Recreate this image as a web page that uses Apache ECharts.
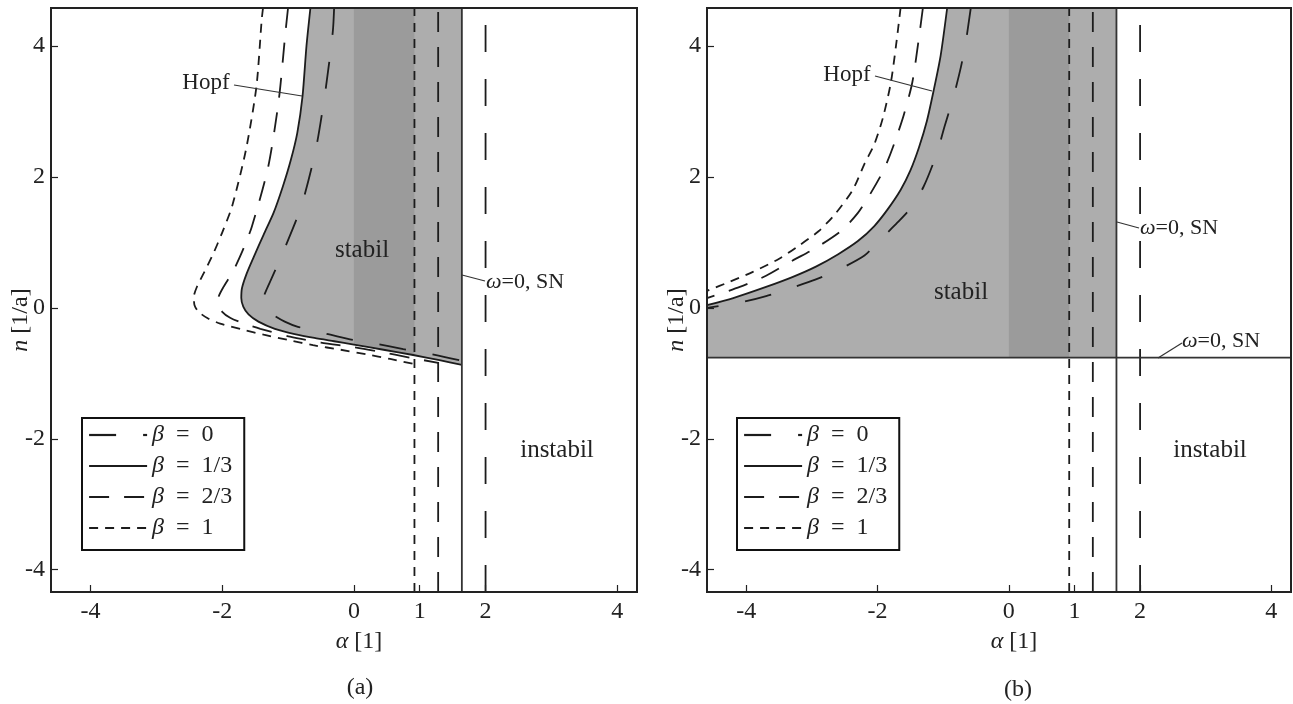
<!DOCTYPE html>
<html><head><meta charset="utf-8">
<script src="https://cdn.jsdelivr.net/npm/echarts@6/dist/echarts.min.js"></script>
<style>html,body{margin:0;padding:0;background:#fff}#c{width:1293px;height:704px}</style>
</head><body><div id="c"></div>
<script>
// ---------- data ----------
const betaNames = ['β = 0', 'β = 1/3', 'β = 2/3', 'β = 1'];
const snAlpha = [2.0, 1.64, 1.28, 0.92];       // saddle-node (ω=0) vertical lines per β
const snLevelB = -0.76;                          // horizontal SN line, panel (b)
const xTicks = [-4, -2, 0, 1, 2, 4];
const yTicks = [-4, -2, 0, 2, 4];
const xRange = [-4.6, 4.3];
const yRange = [-4.34, 4.58];

// panel (a): Hopf curves
const hopfA_b0 = [[-0.30,4.58],[-0.32,4.22],[-0.43,3.33],[-0.58,2.41],[-0.80,1.55],[-1.08,0.84],[-1.25,0.45],[-1.33,0.27],[-1.37,0.15],[-1.35,0.04],[-1.30,-0.04],[-1.22,-0.11],[-1.05,-0.21],[-0.85,-0.29],[-0.44,-0.39],[-0.06,-0.48],[0.34,-0.55],[0.75,-0.63],[1.15,-0.70],[1.60,-0.80],[2.0,-0.90]];
const hopfA_b13 = [[-0.66,4.58],[-0.72,4.0],[-0.78,3.23],[-0.86,2.67],[-0.96,2.25],[-1.08,1.85],[-1.22,1.45],[-1.37,1.12],[-1.52,0.78],[-1.63,0.52],[-1.70,0.30],[-1.71,0.15],[-1.68,0.02],[-1.60,-0.10],[-1.45,-0.21],[-1.20,-0.32],[-0.90,-0.40],[-0.60,-0.46],[-0.30,-0.51],[0.0,-0.56],[0.45,-0.64],[0.90,-0.72],[1.30,-0.80],[1.64,-0.87]];
const hopfA_b23 = [[-1.00,4.58],[-1.04,4.2],[-1.14,3.18],[-1.30,2.16],[-1.55,1.24],[-1.70,0.85],[-1.84,0.55],[-1.98,0.32],[-2.05,0.18],[-2.06,0.05],[-2.00,-0.06],[-1.88,-0.15],[-1.67,-0.24],[-1.42,-0.32],[-0.97,-0.44],[-0.50,-0.53],[0.0,-0.60],[0.40,-0.67],[0.85,-0.76],[1.28,-0.84]];
const hopfA_b1 = [[-1.38,4.58],[-1.40,4.4],[-1.48,3.38],[-1.64,2.41],[-1.85,1.55],[-2.0,1.15],[-2.13,0.84],[-2.27,0.55],[-2.38,0.33],[-2.43,0.17],[-2.42,0.04],[-2.36,-0.06],[-2.22,-0.16],[-2.03,-0.24],[-1.70,-0.33],[-1.37,-0.41],[-1.0,-0.49],[-0.62,-0.57],[-0.2,-0.64],[0.19,-0.71],[0.55,-0.78],[0.92,-0.86]];

// panel (b): Hopf curves
const hopfB_b0 = [[-0.58,4.58],[-0.65,4.1],[-0.73,3.68],[-0.85,3.2],[-0.98,2.77],[-1.1,2.35],[-1.3,1.85],[-1.5,1.52],[-1.7,1.3],[-2.0,1.0],[-2.2,0.8],[-2.6,0.58],[-2.95,0.43],[-3.3,0.31],[-3.7,0.18],[-4.1,0.08],[-4.6,0.0]];
const hopfB_b13 = [[-0.94,4.58],[-1.04,3.85],[-1.15,3.3],[-1.25,2.85],[-1.37,2.45],[-1.5,2.1],[-1.65,1.8],[-1.85,1.5],[-2.05,1.25],[-2.3,1.02],[-2.6,0.82],[-2.94,0.63],[-3.3,0.47],[-3.7,0.32],[-4.2,0.15],[-4.6,0.04]];
const hopfB_b23 = [[-1.31,4.58],[-1.36,4.2],[-1.47,3.45],[-1.6,2.95],[-1.75,2.5],[-1.9,2.12],[-2.1,1.76],[-2.3,1.45],[-2.55,1.18],[-2.95,0.91],[-3.3,0.72],[-3.7,0.49],[-4.1,0.32],[-4.6,0.15]];
const hopfB_b1 = [[-1.65,4.58],[-1.72,4.0],[-1.8,3.43],[-1.92,2.9],[-2.05,2.5],[-2.2,2.2],[-2.38,1.8],[-2.65,1.43],[-2.9,1.17],[-3.2,0.95],[-3.5,0.75],[-3.9,0.55],[-4.25,0.40],[-4.6,0.26]];

const hopf = [[hopfA_b0, hopfA_b13, hopfA_b23, hopfA_b1], [hopfB_b0, hopfB_b13, hopfB_b23, hopfB_b1]];

// ---------- styles ----------
const FONT = 'Liberation Serif';
const INK = '#1c1c1c';
const dashes = [[27, 27], 'solid', [20, 15], [9, 7]];
const LIGHT = '#adadad', DARK = '#9b9b9b';

// ---------- helpers ----------
function clipX(poly, lo, hi) {
  const clip = (pts, inside, inter) => {
    const out = [];
    for (let i = 0; i < pts.length; i++) {
      const a = pts[i], b = pts[(i + 1) % pts.length];
      const ia = inside(a), ib = inside(b);
      if (ia) out.push(a);
      if (ia !== ib) out.push(inter(a, b));
    }
    return out;
  };
  const ix = x => (a, b) => { const t = (x - a[0]) / (b[0] - a[0]); return [x, a[1] + t * (b[1] - a[1])]; };
  let r = clip(poly, q => q[0] >= lo, ix(lo));
  r = clip(r, q => q[0] <= hi, ix(hi));
  return r;
}
function polySeries(p, pts, color) {
  return {
    type: 'custom', xAxisIndex: p, yAxisIndex: p, silent: true, z: 1, clip: true,
    data: [[0, 0]],
    renderItem: (params, api) => ({
      type: 'polygon',
      shape: { points: pts.map(q => api.coord(q)) },
      style: { fill: color }
    })
  };
}

// stable regions
const regionA = hopfA_b13.concat([[snAlpha[1], yRange[1]]]);
const regionB = hopfB_b13.slice().reverse().concat([[snAlpha[1], yRange[1]], [snAlpha[1], snLevelB], [xRange[0], snLevelB]]);
const bandA = clipX(regionA, 0, snAlpha[3]);
const bandB = clipX(regionB, 0, snAlpha[3]);

// ---------- chart ----------
const chart = echarts.init(document.getElementById('c'), null, { renderer: 'canvas' });

const grids = [
  { left: 51, top: 8, width: 586, height: 584 },
  { left: 707, top: 8, width: 584, height: 584 }
].map(g => Object.assign(g, { show: true, borderColor: '#222', borderWidth: 2, backgroundColor: 'transparent', z: 10 }));

const axisFont = { fontFamily: FONT, fontSize: 24, color: '#222' };
const xAxes = [0, 1].map(p => ({
  type: 'value', gridIndex: p, min: xRange[0], max: xRange[1], z: 10,
  name: '{i|α} [1]', nameLocation: 'middle', nameGap: 38, nameMoveOverlap: false,
  nameTextStyle: Object.assign({}, axisFont, { padding: [0, 0, 0, 30], rich: { i: { fontStyle: 'italic', fontFamily: FONT, fontSize: 24, color: '#222' } } }),
  axisLine: { show: true, onZero: false, lineStyle: { color: '#222', width: 2 } },
  axisTick: { show: true, inside: true, length: 7, customValues: xTicks, lineStyle: { color: '#222', width: 1.2 } },
  axisLabel: Object.assign({ customValues: xTicks, margin: 8 }, axisFont),
  splitLine: { show: false }
}));
const yAxes = [0, 1].map(p => ({
  type: 'value', gridIndex: p, min: yRange[0], max: yRange[1], z: 10,
  name: '{i|n} [1/a]', nameLocation: 'middle', nameGap: 18, nameRotate: 90, nameMoveOverlap: false,
  nameTextStyle: Object.assign({}, axisFont, { padding: [0, 40, 0, 0], rich: { i: { fontStyle: 'italic', fontFamily: FONT, fontSize: 24, color: '#222' } } }),
  axisLine: { show: true, onZero: false, lineStyle: { color: '#222', width: 2 } },
  axisTick: { show: true, inside: true, length: 7, customValues: yTicks, lineStyle: { color: '#222', width: 1.2 } },
  axisLabel: Object.assign({ customValues: yTicks, margin: 6 }, axisFont),
  splitLine: { show: false }
}));

const series = [];
// shaded regions
series.push(polySeries(0, regionA, LIGHT), polySeries(0, bandA, DARK));
series.push(polySeries(1, regionB, LIGHT), polySeries(1, bandB, DARK));
// Hopf curves
[0, 1].forEach(p => betaNames.forEach((nm, i) => {
  series.push({
    type: 'line', name: nm, xAxisIndex: p, yAxisIndex: p, data: hopf[p][i],
    symbol: 'none', showSymbol: false, smooth: 0.25, z: 4, silent: true,
    itemStyle: { color: INK },
    lineStyle: { color: INK, width: 1.8, type: dashes[i] }
  });
}));
// SN vertical lines
[0, 1].forEach(p => betaNames.forEach((nm, i) => {
  series.push({
    type: 'line', name: nm, xAxisIndex: p, yAxisIndex: p,
    data: [[snAlpha[i], yRange[0]], [snAlpha[i], yRange[1]]],
    symbol: 'none', showSymbol: false, z: 4, silent: true,
    itemStyle: { color: INK },
    lineStyle: { color: i === 1 ? '#333' : INK, width: 1.8, type: dashes[i] }
  });
}));
// SN horizontal line in (b)
series.push({
  type: 'line', name: 'SN', xAxisIndex: 1, yAxisIndex: 1,
  data: [[xRange[0], snLevelB], [xRange[1], snLevelB]],
  symbol: 'none', showSymbol: false, z: 4, silent: true,
  itemStyle: { color: '#333' },
  lineStyle: { color: '#333', width: 1.8 }
});

const legendText = { fontFamily: FONT, fontSize: 24, color: '#222', lineHeight: 24,
  rich: { i: { fontStyle: 'italic', fontFamily: FONT, fontSize: 24, lineHeight: 24, color: '#222' } } };
const legends = [82, 737].map(x => ({
  data: betaNames, orient: 'vertical', left: x, top: 418,
  itemWidth: 58, itemHeight: 24, itemGap: 7, padding: [5, 12, 10, 6],
  borderColor: '#111', borderWidth: 2, backgroundColor: '#fff', z: 20,
  lineStyle: { width: 2.2 },
  itemStyle: { color: 'rgba(0,0,0,0)', borderWidth: 0, opacity: 0 },
  textStyle: legendText,
  formatter: n => '{i|β}' + n.slice(1).replace(/ /g, '\u2002')
}));

function txt(x, y, text, size, align) {
  return { type: 'text', x, y, z: 30, silent: true,
    style: { text, fill: '#222', font: size + 'px "' + FONT + '"', align: align || 'center', verticalAlign: 'middle',
      rich: { i: { fontStyle: 'italic', fontFamily: FONT, fontSize: size, fill: '#222' } } } };
}
function lead(x1, y1, x2, y2) {
  return { type: 'line', z: 30, silent: true, shape: { x1, y1, x2, y2 }, style: { stroke: '#333', lineWidth: 1.2 } };
}
const graphic = [
  txt(206, 83, 'Hopf', 23), lead(234, 85, 302, 96),
  txt(362, 250, 'stabil', 25),
  txt(486, 282, '{i|ω}=0, SN', 22, 'left'), lead(462, 275, 485, 281),
  txt(557, 450, 'instabil', 25),
  txt(360, 688, '(a)', 24),
  txt(847, 75, 'Hopf', 23), lead(875, 76, 932, 91),
  txt(961, 292, 'stabil', 25),
  txt(1140, 228, '{i|ω}=0, SN', 22, 'left'), lead(1117, 222, 1139, 228),
  txt(1182, 341, '{i|ω}=0, SN', 22, 'left'), lead(1158, 358, 1182, 343),
  txt(1210, 450, 'instabil', 25),
  txt(1018, 690, '(b)', 24)
];

chart.setOption({
  backgroundColor: '#fff',
  animation: false,
  textStyle: { fontFamily: FONT },
  grid: grids, xAxis: xAxes, yAxis: yAxes,
  legend: legends,
  series, graphic
});
</script></body></html>
